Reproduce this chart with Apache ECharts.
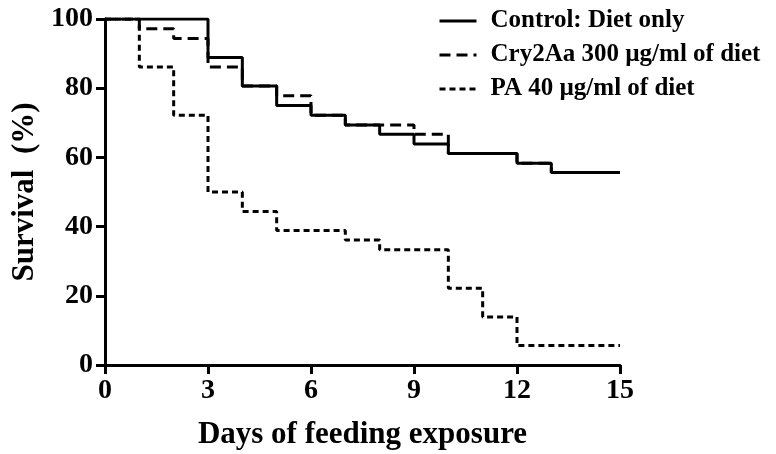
<!DOCTYPE html>
<html><head><meta charset="utf-8">
<script src="https://cdn.jsdelivr.net/npm/echarts@6/dist/echarts.min.js"></script>
<style>html,body{margin:0;padding:0;background:#fff}#c{width:776px;height:454px}</style>
</head><body><div id="c"></div>
<script>
const seriesNames = ['Control: Diet only', 'Cry2Aa 300 \u00b5g/ml of diet', 'PA 40 \u00b5g/ml of diet'];
const controlDays = [0, 3, 4, 5, 6, 7, 8, 9, 10, 12, 13, 15];
const controlSurv = [100, 88.9, 80.6, 75.0, 72.2, 69.4, 66.7, 63.9, 61.1, 58.3, 55.6, 55.6];
const cryDays = [0, 1, 2, 3, 4, 5, 6, 7, 8, 9, 10, 12, 13, 15];
const crySurv = [100, 97.2, 94.4, 86.1, 80.6, 77.8, 72.2, 69.4, 69.4, 66.7, 61.1, 58.3, 55.6, 55.6];
const paDays = [0, 1, 2, 3, 4, 5, 7, 8, 10, 11, 12, 15];
const paSurv = [100, 86.1, 72.2, 50.0, 44.4, 38.9, 36.1, 33.3, 22.2, 13.9, 5.6, 5.6];
const xTicks = [0, 3, 6, 9, 12, 15];
const yTicks = [0, 20, 40, 60, 80, 100];

const pairs = (xs, ys) => xs.map((x, i) => [x, ys[i]]);
const font = '"Liberation Serif", "Times New Roman", serif';
const chart = echarts.init(document.getElementById('c'), null, {renderer: 'canvas'});
const mk = (name, data, type) => ({
  name, type: 'line', step: 'end', data: pairs(data[0], data[1]), symbol: 'none',
  lineStyle: {color: '#000', width: 3, type: type, cap: 'butt'},
  itemStyle: {color: '#000'}, animation: false
});
chart.setOption({
  backgroundColor: '#fff',
  animation: false,
  grid: {left: 105, top: 19, right: 156, bottom: 89, containLabel: false, outerBoundsMode: 'none'},
  legend: {
    orient: 'vertical', left: 433, top: 3, itemWidth: 37, itemHeight: 14, itemGap: 8,
    itemStyle: {opacity: 0},
    lineStyle: {width: 3},
    textStyle: {fontFamily: font, fontWeight: 'bold', fontSize: 25, lineHeight: 26, color: '#000',
      padding: [0, 0, 0, 9]},
    data: seriesNames
  },
  xAxis: {
    type: 'value', min: 0, max: 15, interval: 3,
    name: 'Days of feeding exposure', nameLocation: 'middle', nameGap: 54,
    nameTextStyle: {fontFamily: font, fontWeight: 'bold', fontSize: 31, color: '#000'},
    axisLine: {lineStyle: {color: '#000', width: 3}},
    axisTick: {show: true, length: 9, lineStyle: {color: '#000', width: 3}},
    axisLabel: {fontFamily: font, fontWeight: 'bold', fontSize: 28, color: '#000', margin: 12,
      customValues: xTicks},
    splitLine: {show: false}
  },
  yAxis: {
    type: 'value', min: 0, max: 100, interval: 20,
    name: 'Survival  (%)', nameLocation: 'middle', nameGap: 60, nameRotate: 90,
    nameTextStyle: {fontFamily: font, fontWeight: 'bold', fontSize: 31, color: '#000'},
    axisLine: {show: true, lineStyle: {color: '#000', width: 3}},
    axisTick: {show: true, length: 9, lineStyle: {color: '#000', width: 3}},
    axisLabel: {fontFamily: font, fontWeight: 'bold', fontSize: 28, color: '#000', margin: 12,
      customValues: yTicks},
    splitLine: {show: false}
  },
  series: [
    mk(seriesNames[0], [controlDays, controlSurv], 'solid'),
    mk(seriesNames[1], [cryDays, crySurv], [11, 6]),
    mk(seriesNames[2], [paDays, paSurv], [6, 4])
  ]
});
</script></body></html>
